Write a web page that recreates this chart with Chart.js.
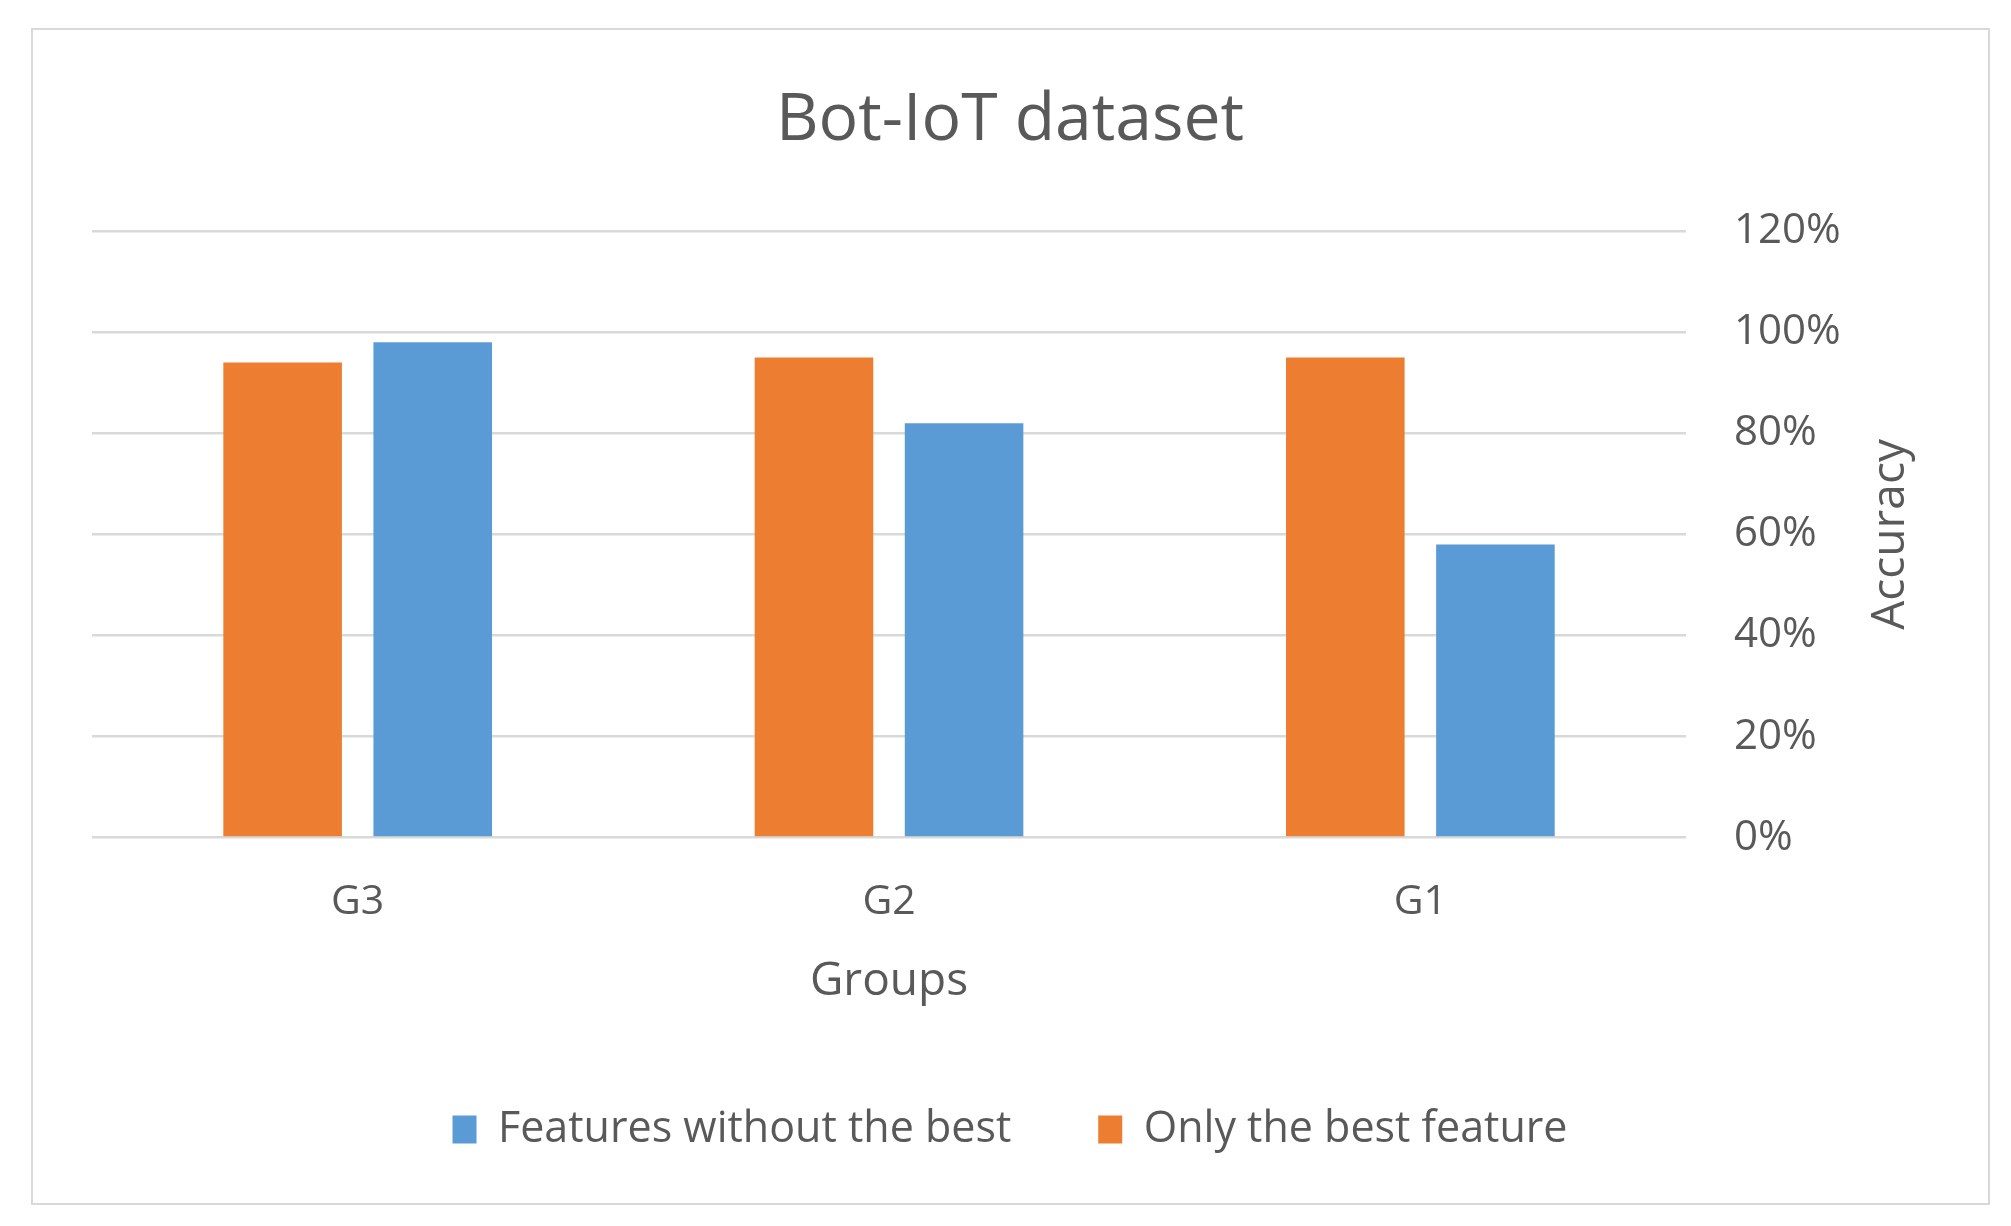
<!DOCTYPE html>
<html>
<head>
<meta charset="utf-8">
<title>Bot-IoT dataset</title>
<script src="https://cdn.jsdelivr.net/npm/chart.js@4.4.1/dist/chart.umd.min.js"></script>
<style>
  html, body { margin: 0; padding: 0; background: #fff; }
  #frame {
    position: absolute; left: 31px; top: 28px;
    width: 1955px; height: 1173px;
    border: 2px solid #d9d9d9;
  }
</style>
</head>
<body>
<div id="frame"><canvas id="barChartBotIoT"></canvas></div>
<script>
var groups = ["G3", "G2", "G1"];
var onlyBestFeature = [94, 95, 95];
var featuresWithoutBest = [98, 82, 58];
var yTicks = [0, 20, 40, 60, 80, 100, 120];

var textColor = "#595959";
Chart.defaults.font.family = "'Open Sans', sans-serif";
Chart.defaults.color = textColor;

// right axis title has to read bottom-to-top, chart.js turns it the other way
var rightTitle = {
    id: 'rightTitle',
    afterDraw: function (chart) {
        var scale = chart.scales.y;
        var t = scale.options.title;
        var lh = 46 * 1.2;
        var ctx = chart.ctx;
        ctx.save();
        ctx.translate(scale.right - t.padding.top - lh / 2, (scale.top + scale.bottom) / 2);
        ctx.rotate(-Math.PI / 2);
        ctx.font = "46px 'Open Sans'";
        ctx.fillStyle = textColor;
        ctx.textAlign = 'center';
        ctx.textBaseline = 'middle';
        ctx.fillText(t.text, 0, 0);
        ctx.restore();
    }
};

var ctx = document.getElementById("barChartBotIoT");
var myChart = new Chart(ctx, {
    type: 'bar',
    data: {
        labels: groups,
        datasets: [{
            label: "Only the best feature",
            data: onlyBestFeature,
            backgroundColor: "#ED7D31",
            borderWidth: 0
        }, {
            label: "Features without the best",
            data: featuresWithoutBest,
            backgroundColor: "#5B9BD5",
            borderWidth: 0
        }]
    },
    options: {
        responsive: true,
        maintainAspectRatio: false,
        animation: false,
        categoryPercentage: 0.565,
        barPercentage: 0.79,
        layout: {
            padding: { left: 59, right: 60, top: 0, bottom: 42 }
        },
        plugins: {
            title: {
                display: true,
                text: "Bot-IoT dataset",
                color: textColor,
                font: { size: 66, weight: 'normal' },
                padding: { top: 52, bottom: 70 }
            },
            legend: {
                position: 'bottom',
                reverse: true,
                labels: {
                    boxWidth: 24,
                    boxHeight: 28,
                    padding: 87,
                    color: textColor,
                    font: { size: 43 }
                }
            },
            tooltip: { enabled: false }
        },
        scales: {
            x: {
                grid: { display: false, drawTicks: false },
                border: { display: false },
                ticks: { padding: 40, font: { size: 41 } },
                title: {
                    display: true,
                    text: "Groups",
                    font: { size: 46 },
                    padding: { top: -13, bottom: 12 }
                }
            },
            y: {
                position: 'right',
                min: 0,
                max: 120,
                afterBuildTicks: function (axis) {
                    axis.ticks = yTicks.map(function (v) { return { value: v }; });
                },
                grid: { color: "#d9d9d9", lineWidth: 2.5, drawTicks: false },
                border: { display: false },
                ticks: {
                    padding: 48,
                    font: { size: 42 },
                    callback: function (v) { return v + '%'; }
                },
                title: {
                    display: true,
                    text: "Accuracy",
                    color: 'rgba(0,0,0,0)',
                    font: { size: 46 },
                    padding: { top: 10, bottom: -26 }
                }
            }
        }
    },
    plugins: [rightTitle]
});
</script>
</body>
</html>
